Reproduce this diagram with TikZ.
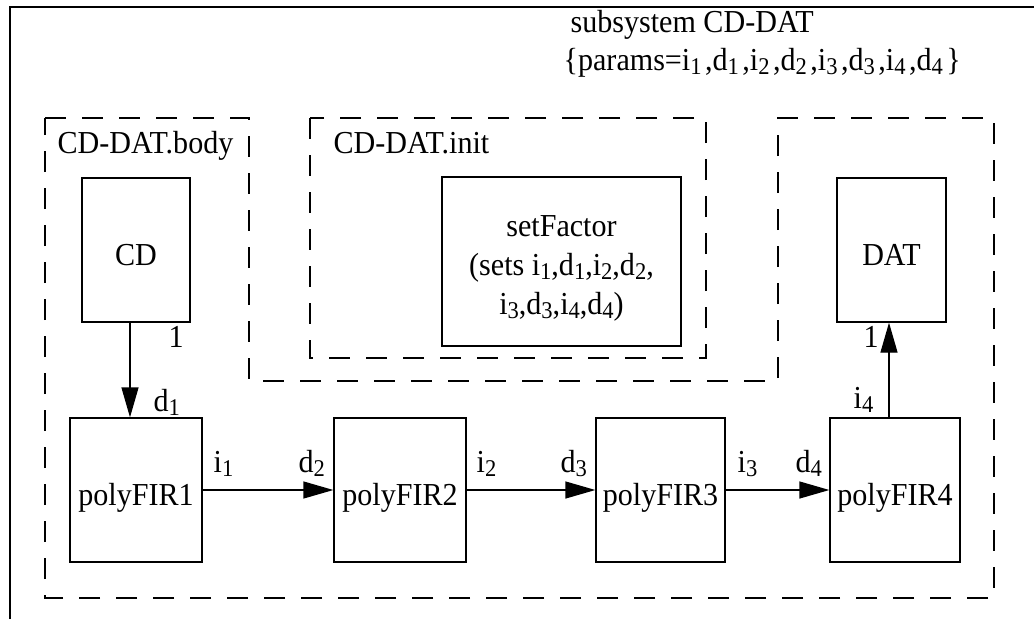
\documentclass[tikz,border=0pt]{standalone}
\usepackage{fontspec}
\setmainfont[FakeStretch=0.94]{Liberation Serif}
\usetikzlibrary{arrows.meta}
\newcommand\sbx[1]{\raisebox{-4.5pt}{\fontsize{24}{24}\selectfont #1}}
\newcommand\sbt[1]{\sbx{#1}\kern3.5pt}
\begin{document}
\begin{tikzpicture}[x=1pt,y=-1pt, line width=1.3pt,
  every node/.style={font=\fontsize{32}{39}\selectfont, inner sep=0pt},
  blk/.style={draw, rectangle, text height=36pt, text depth=6pt},
  lbl/.style={anchor=base west},
  dsh/.style={dash pattern=on 21pt off 16pt},
  arr/.style={-{Triangle[length=30pt,width=17pt]}}]
\useasboundingbox (0,0) rectangle (1034,619);
% outer frame
\draw (10,619) -- (10,7) -- (1034,7);
% dashed regions
\draw[dsh] (45,118) -- (249,118) -- (249,381) -- (778,381) -- (778,118) -- (994,118) -- (994,598) -- (45,598) -- cycle;
\draw[dsh] (310,118) rectangle (706,358);
% titles
\node[lbl] (title1) at (570,32) {subsystem CD-DAT};
\node[lbl] (title2) at (563,70) {\{params=i\sbt{1},d\sbt{1},i\sbt{2},d\sbt{2},i\sbt{3},d\sbt{3},i\sbt{4},d\sbt{4}\}};
\node[lbl] (bodylbl) at (57,153) {CD-DAT.body};
\node[lbl] (initlbl) at (333,153) {CD-DAT.init};
% blocks
\node[blk, minimum width=108pt, minimum height=144pt] (cd) at (136,250) {CD};
\node[blk, minimum width=109pt, minimum height=144pt] (dat) at (891.5,250) {DAT};
\node[draw, rectangle, minimum width=239pt, minimum height=169pt] (sf) at (561.5,261.5) {};
\node[align=center] (sftext) at (561.5,268) {setFactor\\(sets i\sbx{1},d\sbx{1},i\sbx{2},d\sbx{2},\\i\sbx{3},d\sbx{3},i\sbx{4},d\sbx{4})};
\node[blk, minimum width=132pt, minimum height=144pt] (fir1) at (136,490) {polyFIR1};
\node[blk, minimum width=132pt, minimum height=144pt] (fir2) at (400,490) {polyFIR2};
\node[blk, minimum width=129pt, minimum height=144pt] (fir3) at (660.5,490) {polyFIR3};
\node[blk, minimum width=130pt, minimum height=144pt] (fir4) at (895,490) {polyFIR4};
% connectors
\draw[arr] ([xshift=-6pt]cd.south) -- ([xshift=-6pt]fir1.north);
\draw[arr] (fir1.east) -- (fir2.west);
\draw[arr] (fir2.east) -- (fir3.west);
\draw[arr] (fir3.east) -- (fir4.west);
\draw[arr] ([xshift=-6pt]fir4.north) -- ([xshift=-2.5pt]dat.south);
% port labels
\node[lbl] (pcd) at (168,347) {1};
\node[lbl] (pd1) at (153,411) {d\sbx{1}};
\node[lbl] (pi1) at (213,472) {i\sbx{1}};
\node[lbl] (pd2) at (298,472) {d\sbx{2}};
\node[lbl] (pi2) at (476,472) {i\sbx{2}};
\node[lbl] (pd3) at (560,472) {d\sbx{3}};
\node[lbl] (pi3) at (737,472) {i\sbx{3}};
\node[lbl] (pd4) at (795,472) {d\sbx{4}};
\node[lbl] (pi4) at (853,408) {i\sbx{4}};
\node[lbl] (pdat) at (863,347) {1};
\end{tikzpicture}
\end{document}
